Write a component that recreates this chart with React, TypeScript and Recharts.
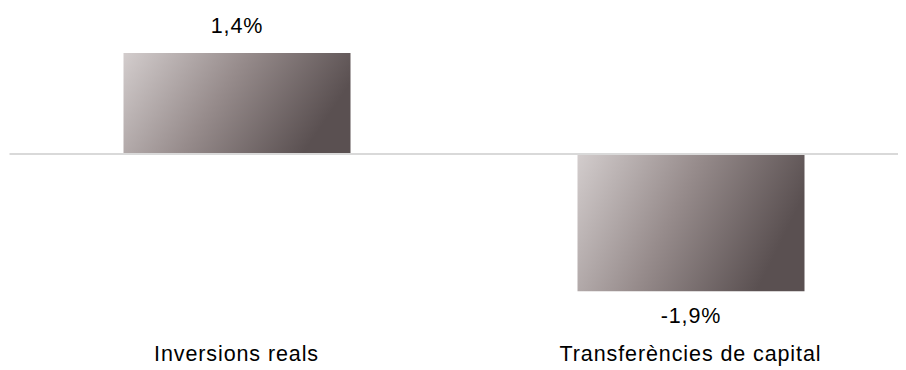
import { BarChart, Bar, XAxis, YAxis, ReferenceLine, LabelList } from 'recharts';

const categories = ['Inversions reals', 'Transferències de capital'];
const values = [1.4, -1.9];
const valueLabels = ['1,4%', '-1,9%'];

const data = categories.map((name, i) => ({ name, value: values[i], label: valueLabels[i] }));

const font = '"Liberation Sans", Arial, sans-serif';

// label above positive bars, below negative ones
const renderValueLabel = (props: any) => {
  const { x, y, width, height, index } = props;
  const top = Math.min(y, y + height);
  const bottom = Math.max(y, y + height);
  const neg = values[index] < 0;
  return (
    <text
      x={x + width / 2}
      y={neg ? bottom + 32 : top - 20}
      textAnchor="middle"
      fill="#000"
      fontSize={21.5}
      letterSpacing={0.9}
      fontFamily={font}
    >
      {valueLabels[index]}
    </text>
  );
};

export default function App() {
  return (
    <BarChart
      width={898}
      height={362}
      data={data}
      margin={{ top: 1.6, right: -11.5, left: 1.5, bottom: 5 }}
      style={{ overflow: 'visible' }}
    >
      <defs>
        <linearGradient id="barGrad" x1="0" y1="0" x2="1" y2="0.3">
          <stop offset="0%" stopColor="#d3cdcd" />
          <stop offset="50%" stopColor="#978c8c" />
          <stop offset="100%" stopColor="#5a5051" />
        </linearGradient>
      </defs>
      <XAxis
        dataKey="name"
        axisLine={false}
        tickLine={false}
        height={30.5}
        tickMargin={5.5}
        tick={{ fontSize: 21.5, fill: '#000', fontFamily: font, letterSpacing: 0.9 }}
      />
      <YAxis hide domain={[-2.5, 2]} />
      <Bar dataKey="value" fill="url(#barGrad)" barSize={227} isAnimationActive={false}>
        <LabelList dataKey="label" content={renderValueLabel} />
      </Bar>
      <ReferenceLine y={0} stroke="#d9d9d9" strokeWidth={2} ifOverflow="visible" />
    </BarChart>
  );
}
